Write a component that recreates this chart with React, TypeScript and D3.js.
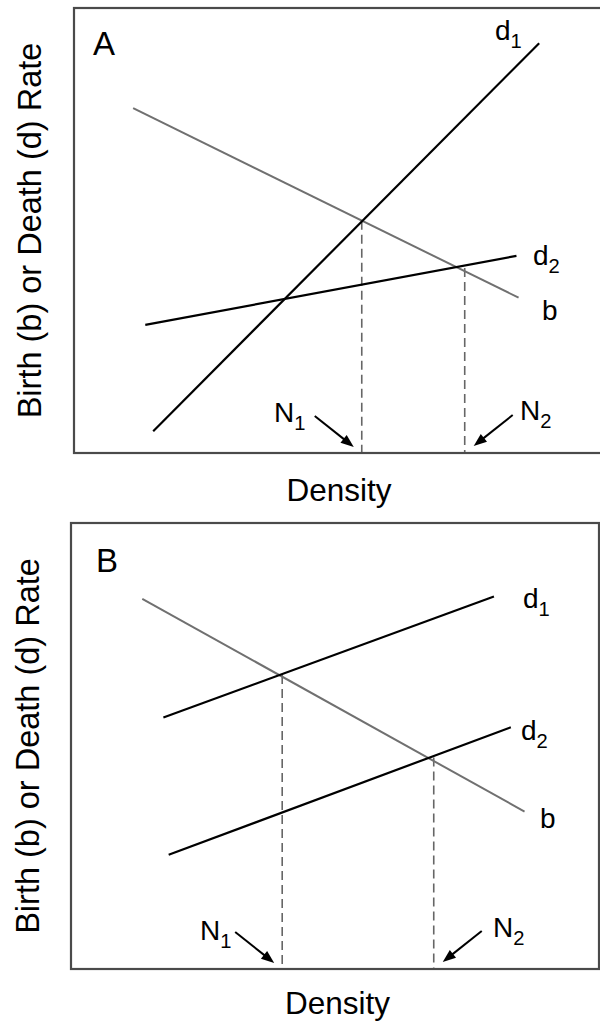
import React from "react";
import * as d3 from "d3";

// ---- Data (in data units 0..100 on each panel's axes) ----
type Pt = [number, number];

// Panel A
const panelA_b: Pt[] = [[11.2, 77.5], [84.2, 34.9]];
const panelA_d1: Pt[] = [[15.0, 4.9], [88.1, 92.1]];
const panelA_d2: Pt[] = [[13.5, 28.8], [83.8, 44.3]];
const panelA_N: number[] = [54.5, 74.0];
const panelA_Ntop: number[] = [52.2, 41.6];

// Panel B
const panelB_b: Pt[] = [[13.5, 83.0], [85.9, 35.3]];
const panelB_d1: Pt[] = [[17.5, 56.4], [80.1, 83.5]];
const panelB_d2: Pt[] = [[18.5, 25.6], [83.3, 54.2]];
const panelB_N: number[] = [40.0, 68.7];
const panelB_Ntop: number[] = [65.9, 47.4];

const yAxisLabel = "Birth (b) or Death (d) Rate";
const xAxisLabel = "Density";

const FONT = "'Liberation Sans', Arial, Helvetica, sans-serif";

type PanelProps = {
  letter: string;
  box: { left: number; right: number; top: number; bottom: number };
  b: Pt[];
  d1: Pt[];
  d2: Pt[];
  N: number[];
  Ntop: number[];
  labels: {
    letter: [number, number];
    d1: [number, number];
    d2: [number, number];
    b: [number, number];
    N1: [number, number];
    N2: [number, number];
  };
  yLabelX: number;
  densityY: number;
};

function Arrow({ x1, y1, x2, y2 }: { x1: number; y1: number; x2: number; y2: number }) {
  const ang = Math.atan2(y2 - y1, x2 - x1);
  const L = 13;
  const W = 5;
  const bx = x2 - L * Math.cos(ang);
  const by = y2 - L * Math.sin(ang);
  const px = -Math.sin(ang) * W;
  const py = Math.cos(ang) * W;
  return (
    <g>
      <line x1={x1} y1={y1} x2={bx + 2 * Math.cos(ang)} y2={by + 2 * Math.sin(ang)} stroke="#000" strokeWidth={2} />
      <path d={`M${x2},${y2}L${bx + px},${by + py}L${bx - px},${by - py}Z`} fill="#000" />
    </g>
  );
}

function Sub({ x, y, main, sub, size = 28 }: { x: number; y: number; main: string; sub: string; size?: number }) {
  return (
    <text x={x} y={y} fontFamily={FONT} fontSize={size} fill="#000">
      {main}
      <tspan fontSize={size * 0.72} dy={8}>{sub}</tspan>
    </text>
  );
}

function Panel(p: PanelProps) {
  const { box } = p;
  const x = d3.scaleLinear().domain([0, 100]).range([box.left, box.right]);
  const y = d3.scaleLinear().domain([0, 100]).range([box.bottom, box.top]);
  const line = d3.line<Pt>().x((d) => x(d[0])).y((d) => y(d[1]));
  const midY = (box.top + box.bottom) / 2;
  const n1x = x(p.N[0]);
  const n2x = x(p.N[1]);
  return (
    <g>
      {/* dashed drop lines */}
      {p.N.map((n, i) => (
        <line
          key={i}
          x1={x(n)}
          x2={x(n)}
          y1={y(p.Ntop[i])}
          y2={box.bottom}
          stroke="#666"
          strokeWidth={1.6}
          strokeDasharray="9,5"
        />
      ))}
      <path d={line(p.b) || ""} stroke="#707070" strokeWidth={2} fill="none" />
      <path d={line(p.d1) || ""} stroke="#000" strokeWidth={2.2} fill="none" />
      <path d={line(p.d2) || ""} stroke="#000" strokeWidth={2.2} fill="none" />
      {/* frame */}
      <rect
        x={box.left}
        y={box.top}
        width={box.right - box.left}
        height={box.bottom - box.top}
        fill="none"
        stroke="#4a4a4a"
        strokeWidth={2.2}
      />
      {/* arrows */}
      <Arrow x1={n1x - 47} y1={box.bottom - 37} x2={n1x - 8} y2={box.bottom - 6} />
      <Arrow x1={n2x + 48} y1={box.bottom - 38} x2={n2x + 9} y2={box.bottom - 7} />
      {/* labels */}
      <text x={p.labels.letter[0]} y={p.labels.letter[1]} fontFamily={FONT} fontSize={33} fill="#000">
        {p.letter}
      </text>
      <Sub x={p.labels.d1[0]} y={p.labels.d1[1]} main="d" sub="1" />
      <Sub x={p.labels.d2[0]} y={p.labels.d2[1]} main="d" sub="2" />
      <text x={p.labels.b[0]} y={p.labels.b[1]} fontFamily={FONT} fontSize={28} fill="#000">
        b
      </text>
      <Sub x={p.labels.N1[0]} y={p.labels.N1[1]} main="N" sub="1" />
      <Sub x={p.labels.N2[0]} y={p.labels.N2[1]} main="N" sub="2" />
      <text
        transform={`translate(${p.yLabelX},${midY}) rotate(-90)`}
        textAnchor="middle"
        fontFamily={FONT}
        fontSize={32.5}
        fill="#000"
      >
        {yAxisLabel}
      </text>
      <text
        x={(box.left + 600) / 2 + 2}
        y={p.densityY}
        textAnchor="middle"
        fontFamily={FONT}
        fontSize={31.5}
        fill="#000"
      >
        {xAxisLabel}
      </text>
    </g>
  );
}

export default function App() {
  return (
    <svg
      width={600}
      height={1022}
      style={{ position: "absolute", left: 0, top: 0, background: "#fff" }}
    >
      <rect x={0} y={0} width={600} height={1022} fill="#fff" />
      <Panel
        letter="A"
        box={{ left: 74, right: 602, top: 8, bottom: 453 }}
        b={panelA_b}
        d1={panelA_d1}
        d2={panelA_d2}
        N={panelA_N}
        Ntop={panelA_Ntop}
        labels={{
          letter: [93, 55],
          d1: [495, 40],
          d2: [533, 265],
          b: [542, 320],
          N1: [274, 422],
          N2: [520, 420],
        }}
        yLabelX={41}
        densityY={501}
      />
      <Panel
        letter="B"
        box={{ left: 71, right: 599, top: 523, bottom: 969 }}
        b={panelB_b}
        d1={panelB_d1}
        d2={panelB_d2}
        N={panelB_N}
        Ntop={panelB_Ntop}
        labels={{
          letter: [96, 572],
          d1: [523, 608],
          d2: [521, 740],
          b: [540, 828],
          N1: [200, 940],
          N2: [493, 937],
        }}
        yLabelX={39}
        densityY={1014}
      />
    </svg>
  );
}
